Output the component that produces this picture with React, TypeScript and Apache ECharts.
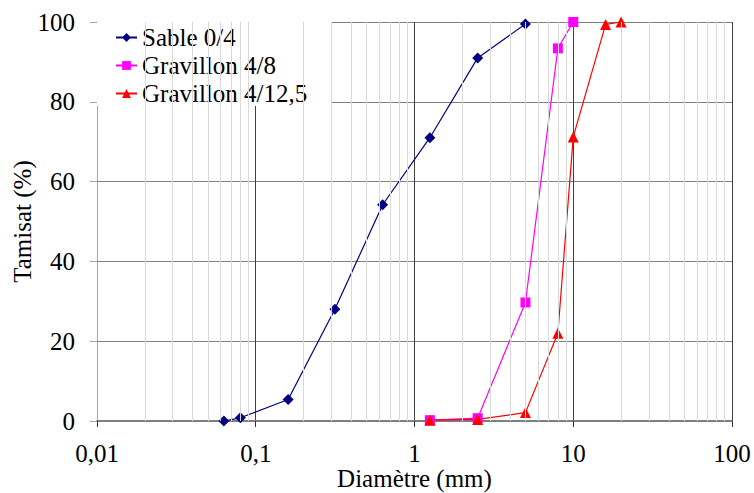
import React, { useEffect, useRef } from "react";
import * as echarts from "echarts";

// Granulometric curves: passing percentage vs. sieve size (mm)
const sableX = [0.063, 0.08, 0.16, 0.315, 0.63, 1.25, 2.5, 5];
const sableY = [0, 0.8, 5.4, 28, 54.2, 71, 91, 99.5];

const grav48X = [1.25, 2.5, 5, 8, 10];
const grav48Y = [0.2, 0.7, 29.7, 93.4, 100];

const grav412X = [1.25, 2.5, 5, 8, 10, 16, 20];
const grav412Y = [0.2, 0.4, 2.1, 22, 71.2, 99.4, 100];

const seriesNames = ["Sable 0/4", "Gravillon 4/8", "Gravillon 4/12,5"];
const xTickLabels = ["0,01", "0,1", "1", "10", "100"];
const yTicks = [0, 20, 40, 60, 80, 100];

// intermediate values 2..9 of each decade for the light vertical grid
const minorMultipliers = [2, 3, 4, 5, 6, 7, 8, 9];
const decades = [0.01, 0.1, 1, 10];

const FONT = "'Liberation Serif', 'Times New Roman', serif";
const FS = 25;

const zip = (xs: number[], ys: number[]) => xs.map((x, i) => [x, ys[i]]);

export default function App() {
  const ref = useRef<HTMLDivElement>(null);

  useEffect(() => {
    if (!ref.current) return;
    const chart = echarts.init(ref.current, undefined, { renderer: "svg" });

    const minorLines: { xAxis: number }[] = [];
    decades.forEach((d) =>
      minorMultipliers.forEach((m) => minorLines.push({ xAxis: +(d * m).toPrecision(3) }))
    );

    chart.setOption({
      animation: false,
      backgroundColor: "#ffffff",
      textStyle: { fontFamily: FONT },
      grid: {
        left: 97,
        top: 22,
        right: 22,
        bottom: 72,
        containLabel: false,
        outerBoundsMode: "none",
      },
      legend: {
        data: seriesNames,
        orient: "vertical",
        left: 97,
        top: 22,
        padding: [3, 24, 0, 18],
        itemWidth: 21,
        itemHeight: 11,
        itemGap: 3,
        backgroundColor: "#ffffff",
        textStyle: { fontFamily: FONT, fontSize: FS, color: "#000", lineHeight: 25 },
      },
      xAxis: {
        type: "log",
        logBase: 10,
        min: 0.01,
        max: 100,
        name: "Diamètre (mm)",
        nameLocation: "middle",
        nameGap: 45,
        nameMoveOverlap: false,
        nameTextStyle: { fontFamily: FONT, fontSize: FS, color: "#000" },
        axisLine: { show: true, lineStyle: { color: "#7f7f7f", width: 2 } },
        axisTick: { show: true, length: 6, lineStyle: { color: "#333", width: 1 } },
        axisLabel: {
          margin: 20,
          fontFamily: FONT,
          fontSize: FS,
          color: "#000",
          formatter: (v: number) => xTickLabels[Math.round(Math.log10(v)) + 2] ?? "",
        },
        splitLine: { show: true, showMinLine: false, lineStyle: { color: "#404040", width: 1 } },
      },
      yAxis: {
        type: "value",
        min: 0,
        max: 100,
        interval: 20,
        name: "Tamisat (%)",
        nameLocation: "middle",
        nameGap: 62,
        nameMoveOverlap: false,
        nameTextStyle: { fontFamily: FONT, fontSize: FS, color: "#000" },
        axisLine: { show: true, lineStyle: { color: "#a6a6a6", width: 1 } },
        axisTick: { show: true, length: 7, lineStyle: { color: "#a6a6a6" } },
        axisLabel: {
          margin: 22,
          fontFamily: FONT,
          fontSize: FS,
          color: "#000",
          formatter: (v: number) => (yTicks.includes(v) ? String(v) : ""),
        },
        splitLine: { show: true, lineStyle: { color: "#808080", width: 1 } },
      },
      series: [
        {
          name: "grille",
          type: "line",
          data: [],
          z: 1,
          silent: true,
          markLine: {
            silent: true,
            symbol: ["none", "none"],
            label: { show: false },
            lineStyle: { color: "#d9d9d9", type: "solid", width: 1 },
            emphasis: { disabled: true },
            data: minorLines,
          },
        },
        {
          name: seriesNames[0],
          type: "line",
          z: 3,
          clip: false,
          data: zip(sableX, sableY),
          symbol: "diamond",
          symbolSize: 11,
          color: "#000080",
          lineStyle: { color: "#000080", width: 1.2 },
          itemStyle: { color: "#000080" },
        },
        {
          name: seriesNames[1],
          type: "line",
          z: 3,
          clip: false,
          data: zip(grav48X, grav48Y),
          symbol: "rect",
          symbolSize: 10,
          color: "#ff00ff",
          lineStyle: { color: "#ff00ff", width: 1.2 },
          itemStyle: { color: "#ff00ff" },
        },
        {
          name: seriesNames[2],
          type: "line",
          z: 3,
          clip: false,
          data: zip(grav412X, grav412Y),
          symbol: "triangle",
          symbolSize: 11,
          color: "#ff0000",
          lineStyle: { color: "#ff0000", width: 1.2 },
          itemStyle: { color: "#ff0000" },
        },
      ],
    });

    return () => chart.dispose();
  }, []);

  return (
    <div
      ref={ref}
      style={{ position: "fixed", left: 0, top: 0, width: 754, height: 493 }}
    />
  );
}
